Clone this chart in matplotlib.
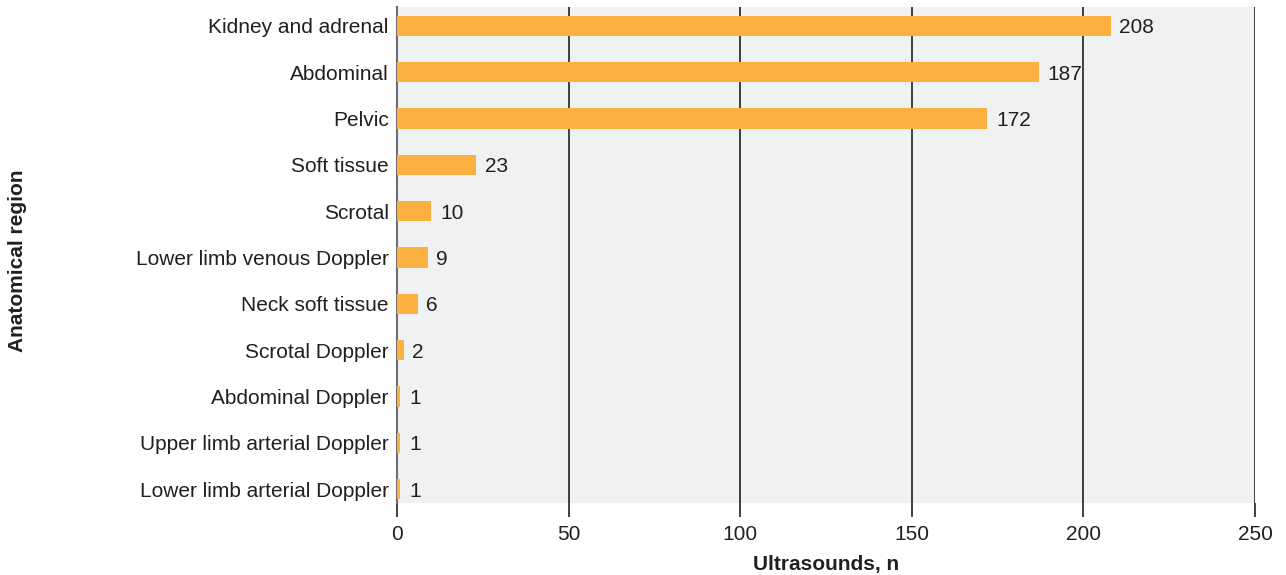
import matplotlib.pyplot as plt

plt.rcParams['font.family'] = ['Liberation Sans', 'DejaVu Sans']

regions = ['Kidney and adrenal', 'Abdominal', 'Pelvic', 'Soft tissue', 'Scrotal',
           'Lower limb venous Doppler', 'Neck soft tissue', 'Scrotal Doppler',
           'Abdominal Doppler', 'Upper limb arterial Doppler', 'Lower limb arterial Doppler']
counts = [208, 187, 172, 23, 10, 9, 6, 2, 1, 1, 1]
x_ticks = [0, 50, 100, 150, 200, 250]

fig = plt.figure(figsize=(12.86, 5.75), dpi=100)
ax = fig.add_axes([397 / 1286, 72 / 575, 858 / 1286, 496 / 575])
ax.set_facecolor('#f0f1f3')

pos = list(range(len(regions)))
ax.barh(pos, counts, height=0.44, color='#fbb040', zorder=3)
for y, v in zip(pos, counts):
    ax.text(v + 2.5, y, str(v), va='center_baseline', ha='left', fontsize=15,
            color='#231f20', zorder=4)

ax.set_ylim(10.30, -0.41)
ax.set_xlim(0, 250)
ax.set_yticks(pos)
ax.set_yticklabels(regions, fontsize=15, color='#231f20')
ax.set_xticks(x_ticks)
ax.set_xticklabels([str(t) for t in x_ticks], fontsize=15, color='#231f20')
ax.tick_params(axis='y', length=0, pad=6)
ax.tick_params(axis='x', length=10, width=1.2, color='#231f20', pad=6)
ax.xaxis.grid(True, color='#231f20', linewidth=1.2, zorder=1)
for s in ['top', 'right', 'bottom']:
    ax.spines[s].set_visible(False)
ax.spines['left'].set_color('#6d6e71')
ax.spines['left'].set_linewidth(1.5)

ax.set_xlabel('Ultrasounds, n', fontsize=15, fontweight='bold', color='#231f20', labelpad=8)
fig.text(18 / 1286, 1 - 261 / 575, 'Anatomical region', rotation=90, fontsize=15,
         fontweight='bold', color='#231f20', va='center', ha='center')

fig.savefig('out.png', dpi=100)
